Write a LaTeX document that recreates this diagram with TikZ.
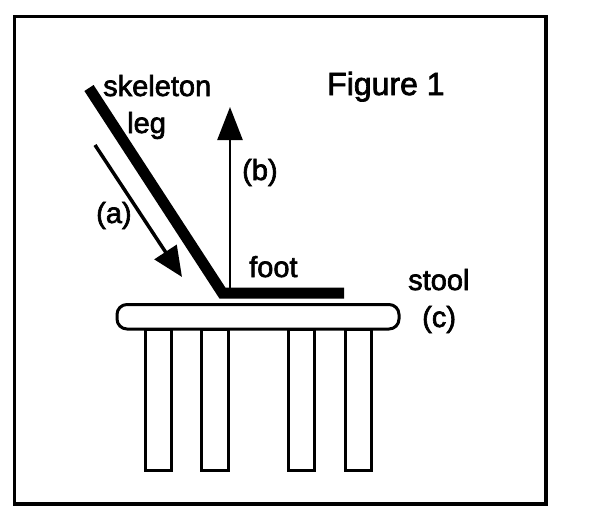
\documentclass[tikz,border=0pt]{standalone}
\usepackage{fontspec}
\setmainfont{Liberation Sans}[FakeBold=2.2]
\usetikzlibrary{arrows.meta}
\begin{document}
\begin{tikzpicture}[x=1pt,y=-1pt,
  lbl/.style={anchor=base west, inner sep=0pt, font=\fontsize{29}{31}\selectfont},
  outline/.style={line width=3pt},
]
\useasboundingbox (0,0) rectangle (592,522);
% frame
\draw[line width=3.5pt] (14.5,16.5) rectangle (546,504);
% stool seat and legs
\draw[outline, rounded corners=10pt] (117,304.5) rectangle (399,329);
\draw[outline] (145,329) rectangle (171,470);
\draw[outline] (201.5,329) rectangle (228.5,470);
\draw[outline] (288,329) rectangle (314.5,470);
\draw[outline] (345,329) rectangle (371,470);
% skeleton leg and foot
\coordinate (legtop) at (89,88);
\coordinate (ankle) at (222.4,293);
\coordinate (toe) at (344,293);
\draw[line width=11pt, line join=miter, line cap=butt] (legtop) -- (ankle) -- (toe);
% arrow (a)
\coordinate (a1) at (95,145);
\coordinate (a2) at (182,277);
\draw[line width=3.5pt, -{Triangle[length=30pt,width=26pt]}] (a1) -- (a2);
% arrow (b)
\coordinate (b1) at (230,289);
\coordinate (b2) at (230,107);
\draw[line width=2.5pt, -{Triangle[length=33pt,width=25pt]}] (b1) -- (b2);
% labels
\node[lbl] (skel) at (103,96) {skeleton};
\node[lbl] (leg) at (127,133) {leg};
\node[lbl, font=\fontsize{32}{35}\selectfont] (fig) at (327,95) {Figure 1};
\node[lbl] (lb) at (242,180) {(b)};
\node[lbl] (la) at (96,223) {(a)};
\node[lbl] (foot) at (249,277) {foot};
\node[lbl] (stool) at (408,290) {stool};
\node[lbl] (lc) at (422,327) {(c)};
\end{tikzpicture}
\end{document}
